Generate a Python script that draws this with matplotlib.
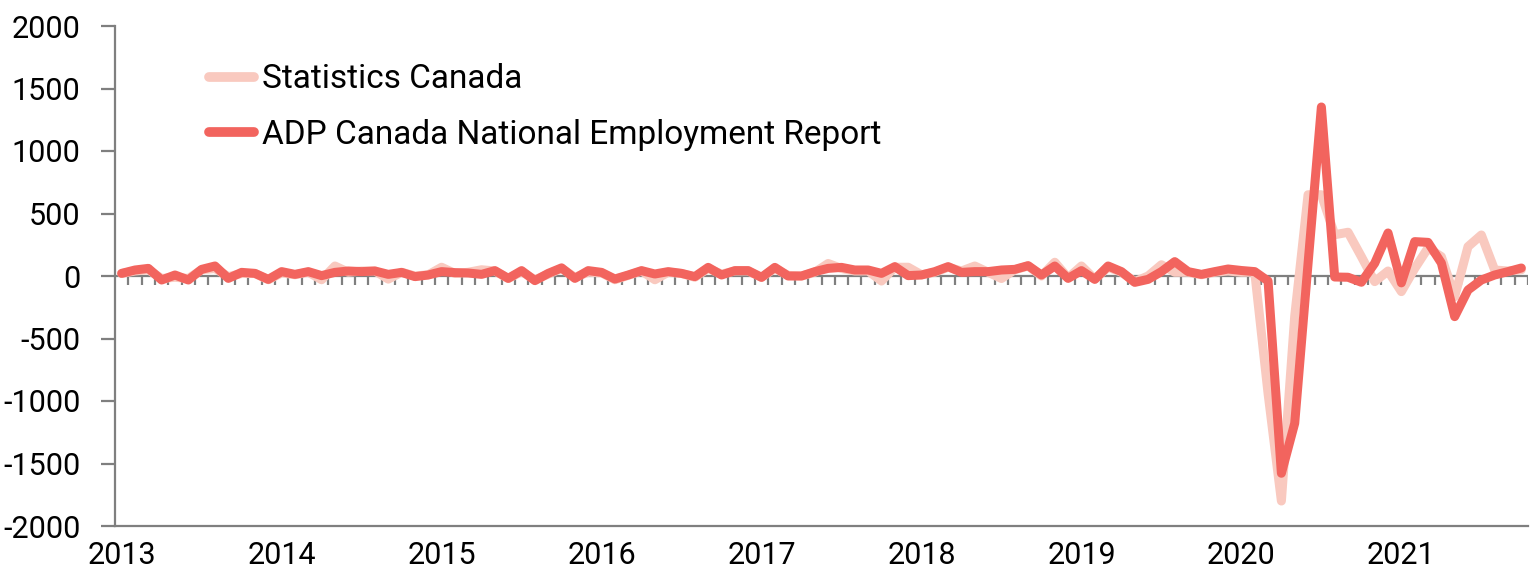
import matplotlib
matplotlib.use("Agg")
import matplotlib.pyplot as plt
import numpy as np
import pandas as pd

months = pd.date_range("2013-01-01", "2021-10-01", freq="MS")
year_labels = ["2013", "2014", "2015", "2016", "2017", "2018", "2019", "2020", "2021"]

statcan = [
    20, 40, 50, -20, -10, -20, 50, 60, -5, 20, 20, -30,
    25, 10, 30, -30, 80, 30, 40, 40, -25, 30, 0, 10,
    70, 20, 30, 50, 40, -20, 35, -30, 15, 60, -10, 30,
    25, -30, 5, 40, -30, 30, 20, -10, 60, 15, 40, 40,
    -10, 60, 5, 0, 30, 100, 60, 40, 40, -40, 70, 70,
    10, 30, 70, 40, 80, 30, -20, 50, 80, 0, 110, -15,
    80, -25, 70, 30, -45, 0, 90, 30, 30, 10, 30, 40,
    30, 30, -940, -1800, -320, 650, 650, 330, 350, 155, -45, 40,
    -125, 60, 224, 155, -165, 235, 328, 48, 40, 50,
]
adp = [
    21, 48, 61, -32, 8, -32, 53, 80, -19, 29, 21, -27,
    35, 13, 35, 3, 29, 40, 35, 40, 13, 29, -5, 8,
    35, 27, 24, 13, 43, -19, 43, -37, 21, 65, -19, 43,
    29, -24, 8, 43, 16, 35, 21, -5, 69, 8, 43, 43,
    -11, 69, 0, 0, 35, 61, 69, 48, 48, 21, 75, 3,
    8, 35, 75, 29, 35, 35, 48, 53, 83, 8, 80, -19,
    43, -27, 80, 35, -51, -27, 35, 115, 35, 13, 35, 56,
    44, 35, -40, -1578, -1178, 100, 1352, -8, -10, -50,
    102, 344, -55, 275, 269, 104, -325, -112, -32, 8, 35, 64,
]

x = np.arange(len(months))

fig = plt.figure(figsize=(15.34, 5.85), dpi=100)
ax = fig.add_axes([115 / 1534, 1 - 526 / 585, 1413 / 1534, 500 / 585])

gray = "#7f7f7f"
light = "#f9c9bf"
red = "#f2645e"
font = "Roboto"

# zero line with monthly ticks
ax.plot([-0.5, len(x) - 0.5], [0, 0], color=gray, lw=1.6, zorder=1, solid_capstyle="butt")
ax.vlines(np.arange(0.5, len(x), 1), -72, 0, color=gray, lw=1.6, zorder=1)

ax.plot(x, statcan, color=light, lw=6.5, solid_joinstyle="round",
        solid_capstyle="round", zorder=2, label="Statistics Canada")
ax.plot(x, adp, color=red, lw=6.5, solid_joinstyle="round",
        solid_capstyle="round", zorder=3, label="ADP Canada National Employment Report")

ax.set_xlim(-0.5, len(x) - 0.5)
ax.set_ylim(-2000, 2000)
ax.set_yticks(np.arange(-2000, 2001, 500))
ax.set_yticklabels([str(v) for v in range(-2000, 2001, 500)], family=font, fontsize=22)
ax.set_xticks(np.arange(0, len(x), 12))
ax.set_xticklabels(year_labels, family=font, fontsize=22)
ax.tick_params(axis="x", length=0, pad=11)
ax.tick_params(axis="y", length=10, width=1.6, color=gray, pad=15)

for s in ["top", "right"]:
    ax.spines[s].set_visible(False)
for s in ["left", "bottom"]:
    ax.spines[s].set_color(gray)
    ax.spines[s].set_linewidth(1.6)

leg = ax.legend(loc="upper left", bbox_to_anchor=(0.057, 0.952), frameon=False,
                prop={"family": font, "size": 24}, handlelength=1.35,
                handletextpad=0.25, labelspacing=0.7, borderaxespad=0)
for h in leg.get_lines():
    h.set_linewidth(7)

fig.savefig("out.png", dpi=100)
